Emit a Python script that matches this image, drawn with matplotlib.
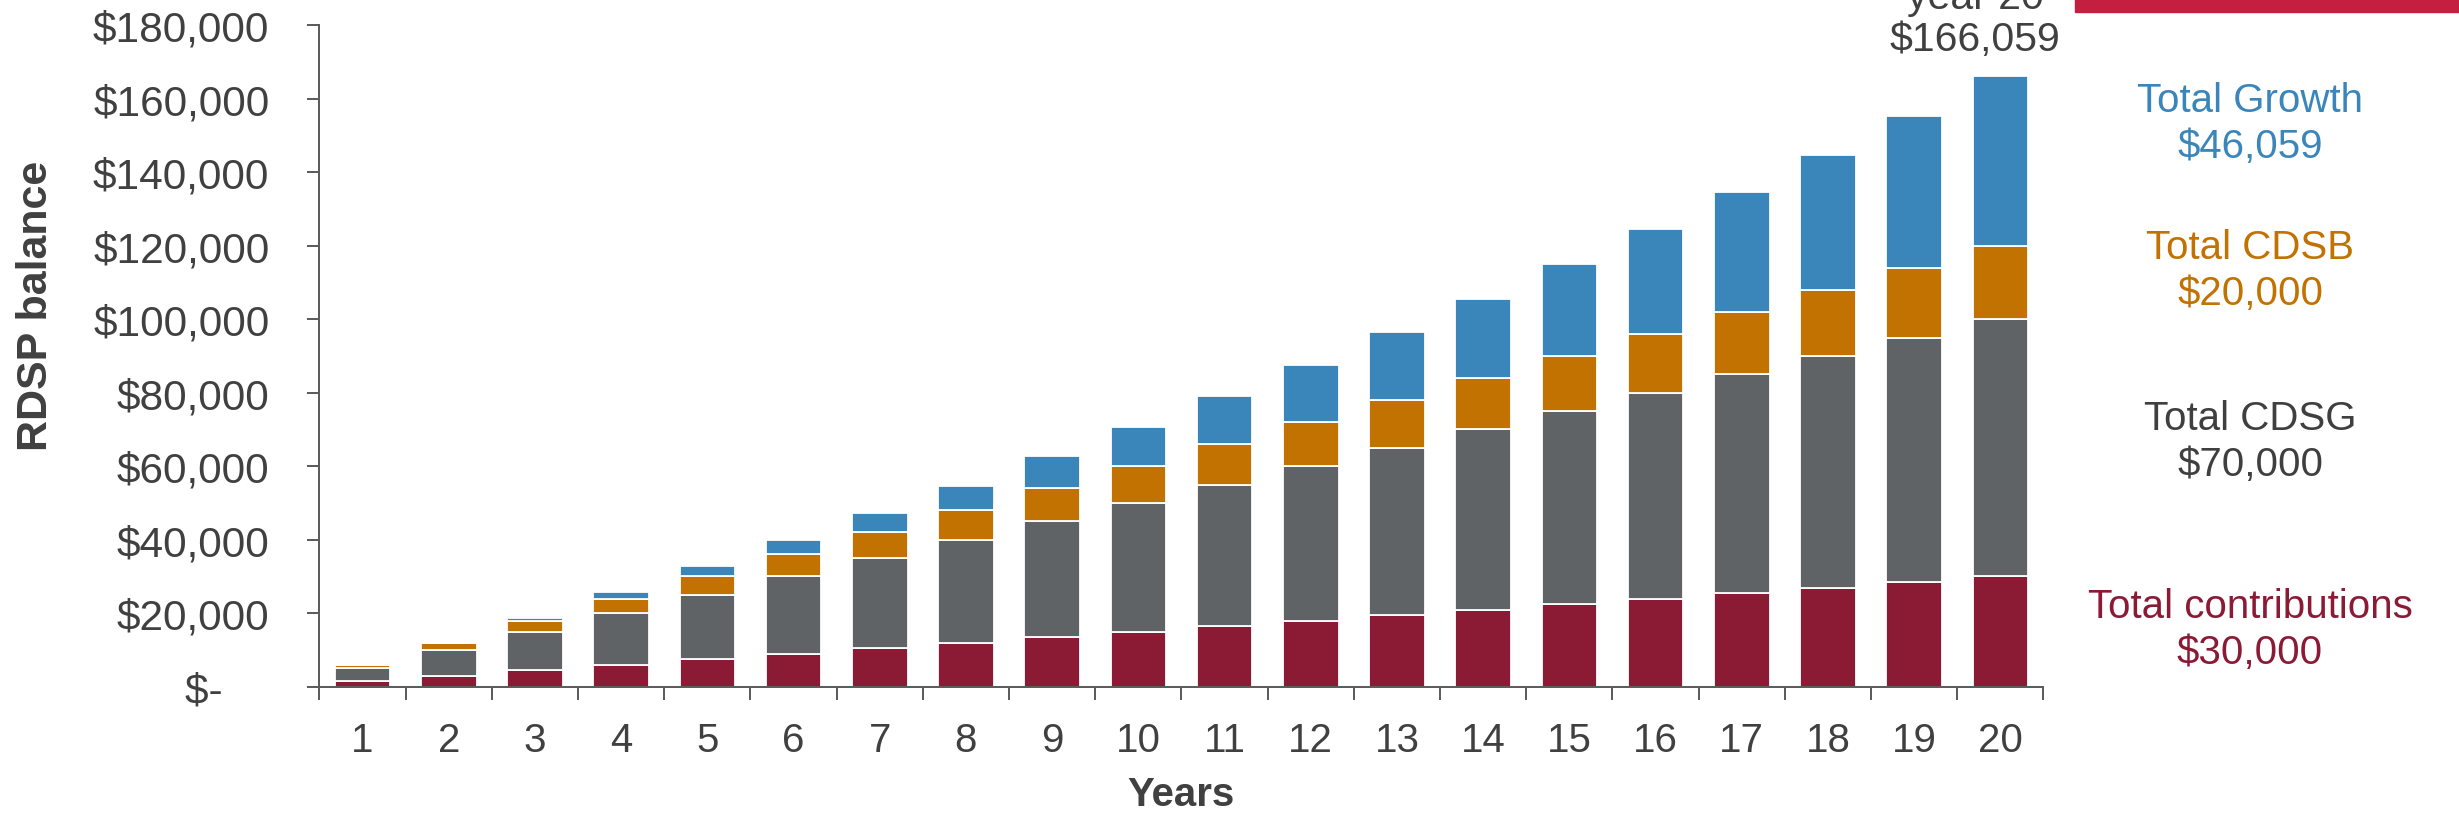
import matplotlib
matplotlib.use("Agg")
import matplotlib.pyplot as plt
from matplotlib.patches import Rectangle
from matplotlib.ticker import FuncFormatter
import numpy as np

# data
years = list(range(1, 21))
contributions = [1500, 3000, 4500, 6000, 7500, 9000, 10500, 12000, 13500, 15000,
                 16500, 18000, 19500, 21000, 22500, 24000, 25500, 27000, 28500, 30000]
cdsg = [3500, 7000, 10500, 14000, 17500, 21000, 24500, 28000, 31500, 35000,
        38500, 42000, 45500, 49000, 52500, 56000, 59500, 63000, 66500, 70000]
cdsb = [1000, 2000, 3000, 4000, 5000, 6000, 7000, 8000, 9000, 10000,
        11000, 12000, 13000, 14000, 15000, 16000, 17000, 18000, 19000, 20000]
growth = [30, 120, 700, 1650, 2750, 3850, 5150, 6700, 8650, 10650,
          13100, 15600, 18500, 21600, 24950, 28550, 32550, 36750, 41300, 46059]

series_names = ['Total contributions', 'Total CDSG', 'Total CDSB', 'Total Growth']
series_colors = ['#8B1A35', '#5F6366', '#C27200', '#3A86BA']
text_colors = ['#8B1A35', '#3F3F3F', '#C27200', '#3A86BA']
y_ticks = [0, 20000, 40000, 60000, 80000, 100000, 120000, 140000, 160000, 180000]

font = 'Liberation Sans'
grey = '#404040'
axis_grey = '#595959'

fig = plt.figure(figsize=(24.59, 8.2), dpi=100)
ax = fig.add_axes([0.1299, 0.1613, 0.7011, 0.8067])

# stacked bars
stacks = [contributions, cdsg, cdsb, growth]
bottom = np.zeros(len(years))
for vals, color in zip(stacks, series_colors):
    ax.bar(years, vals, bottom=bottom, width=0.645, color=color,
           edgecolor='white', linewidth=1.3)
    bottom = bottom + np.array(vals)
total = bottom

ax.set_xlim(0.5, 20.5)
ax.set_ylim(0, 180000)

for s in ['top', 'right']:
    ax.spines[s].set_visible(False)
for s in ['left', 'bottom']:
    ax.spines[s].set_color(axis_grey)
    ax.spines[s].set_linewidth(1.4)

# y axis
ax.set_yticks(y_ticks)
ax.yaxis.set_major_formatter(FuncFormatter(
    lambda v, p: '$-    ' if v == 0 else f'${v:,.0f}'))
ax.tick_params(axis='y', direction='out', length=9, width=1.4, color=axis_grey,
               pad=27, labelsize=30.5, labelcolor=grey)

# x axis: labels at bar centres, tick marks between categories
ax.set_xticks(years)
ax.set_xticklabels([str(y) for y in years])
ax.set_xticks(np.arange(0.5, 21, 1), minor=True)
ax.tick_params(axis='x', which='major', length=0, pad=25, labelsize=29, labelcolor=grey)
ax.tick_params(axis='x', which='minor', direction='out', length=9, width=1.4, color=axis_grey)
for lbl in ax.get_xticklabels() + ax.get_yticklabels():
    lbl.set_fontfamily(font)

fig.text(0.0145, 1 - 306 / 820, 'RDSP balance', rotation=90, ha='center', va='center',
         fontsize=31, fontweight='bold', color=grey, family=font)
fig.text(1181 / 2459, 1 - 795 / 820, 'Years', ha='center', va='center',
         fontsize=29, fontweight='bold', color=grey, family=font)

# total callout above the last bar (cut off at the top, as in the original)
fig.text(1975 / 2459, 1 - 19 / 820, f'year {years[-1]}\n${total[-1]:,.0f}',
         ha='center', va='center', multialignment='center', fontsize=29.5,
         color=grey, family=font, linespacing=1.15)

# side labels, one per series
finals = [contributions[-1], cdsg[-1], cdsb[-1], growth[-1]]
side_y = [630, 442, 271, 124]
for name, val, col, yy in zip(series_names, finals, text_colors, side_y):
    fig.text(2250 / 2459, 1 - yy / 820, f'{name}\n${val:,.0f}', ha='center', va='center',
             multialignment='center', fontsize=29, color=col, family=font, linespacing=1.25)

# red strip at the top right
fig.patches.append(Rectangle((2075 / 2459, 1 - 12.7 / 820), 1 - 2075 / 2459, 12.7 / 820,
                             transform=fig.transFigure, color='#C41F3E', zorder=5))

fig.savefig('out.png', dpi=100)
